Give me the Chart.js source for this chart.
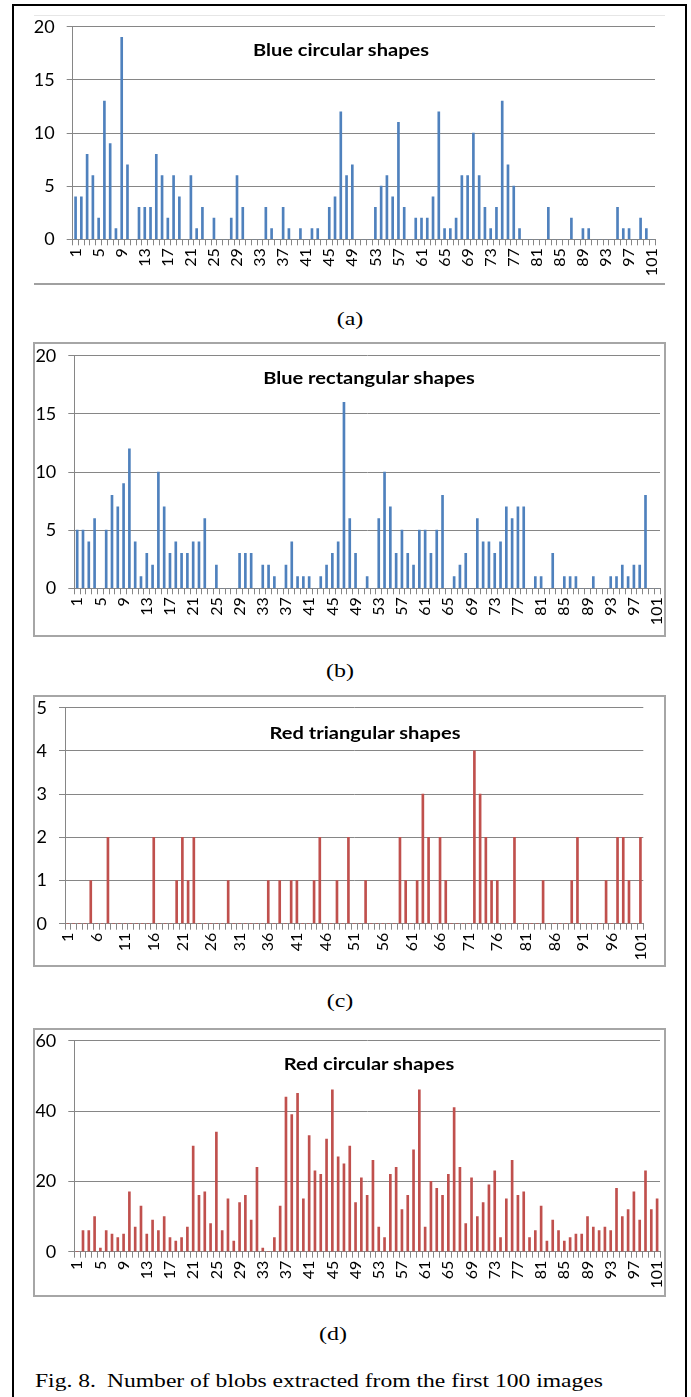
<!DOCTYPE html>
<html><head><meta charset="utf-8">
<script src="https://cdn.jsdelivr.net/npm/chart.js@4.4.0/dist/chart.umd.min.js"></script>
<style>
html,body{margin:0;padding:0;background:#fff;}
body{width:691px;height:1397px;position:relative;overflow:hidden;font-family:Lato,sans-serif;}
.abs{position:absolute;}
.outer{left:12px;top:4px;width:675px;height:1410px;border:2px solid #000;box-sizing:border-box;}
.frame{border:2px solid #a6a6a6;box-sizing:border-box;}
.chartbox{position:absolute;left:34px;width:631px;}
.title{position:absolute;font-family:Lato,sans-serif;font-weight:bold;font-size:17px;color:#000;white-space:nowrap;transform:translate(-50%,-50%) scaleX(1.18);}
.serif{position:absolute;font-family:"Liberation Serif","Times New Roman",serif;font-size:19px;line-height:19px;color:#000;white-space:nowrap;}
.sub{transform:translate(-50%,-50%) scaleX(1.26);}
.cap{transform-origin:left top;transform:scaleX(1.24);}
</style></head>
<body>
<div class="abs outer"></div>
<div class="abs" style="left:34px;top:15px;width:631px;height:1px;background:#e6e6e6"></div>
<div class="abs" style="left:34px;top:283px;width:631px;height:2px;background:#a0a0a0"></div>
<div class="abs frame" style="left:33px;top:342px;width:633px;height:295px"></div>
<div class="abs frame" style="left:33px;top:695px;width:633px;height:272px"></div>
<div class="abs frame" style="left:33px;top:1028px;width:633px;height:269px"></div>

<div class="chartbox" style="top:16px;height:268px"><canvas id="ca"></canvas></div>
<div class="chartbox" style="top:343px;height:293px"><canvas id="cb"></canvas></div>
<div class="chartbox" style="top:696px;height:270px"><canvas id="cc"></canvas></div>
<div class="chartbox" style="top:1029px;height:267px"><canvas id="cd"></canvas></div>

<div class="title" style="left:341px;top:49px">Blue circular shapes</div>
<div class="title" style="left:369px;top:377px">Blue rectangular shapes</div>
<div class="title" style="left:365px;top:732px">Red triangular shapes</div>
<div class="title" style="left:369px;top:1063px">Red circular shapes</div>

<div class="serif sub" style="left:350px;top:318px">(a)</div>
<div class="serif sub" style="left:340px;top:670px">(b)</div>
<div class="serif sub" style="left:340px;top:1000px">(c)</div>
<div class="serif sub" style="left:333px;top:1333px">(d)</div>
<div class="serif cap" style="left:35px;top:1371px">Fig. 8.</div>
<div class="serif cap" style="left:107px;top:1371px">Number of blobs extracted from the first 100 images</div>

<script>
const categories = [1,2,3,4,5,6,7,8,9,10,11,12,13,14,15,16,17,18,19,20,21,22,23,24,25,26,27,28,29,30,31,32,33,34,35,36,37,38,39,40,41,42,43,44,45,46,47,48,49,50,51,52,53,54,55,56,57,58,59,60,61,62,63,64,65,66,67,68,69,70,71,72,73,74,75,76,77,78,79,80,81,82,83,84,85,86,87,88,89,90,91,92,93,94,95,96,97,98,99,100,101];

const blueCircular = [4,4,8,6,2,13,9,1,19,7, 0,3,3,3,8,6,2,6,4,0, 6,1,3,0,2,0,0,2,6,3, 0,0,0,3,1,0,3,1,0,1, 0,1,1,0,3,4,12,6,7,0, 0,0,3,5,6,4,11,3,0,2, 2,2,4,12,1,1,2,6,6,10, 6,3,1,3,13,7,5,1,0,0, 0,0,3,0,0,0,2,0,1,1, 0,0,0,0,3,1,1,0,2,1, 0];
const blueRectangular = [5,5,4,6,0,5,8,7,9,12, 4,1,3,2,10,7,3,4,3,3, 4,4,6,0,2,0,0,0,3,3, 3,0,2,2,1,0,2,4,1,1, 1,0,1,2,3,4,16,6,3,0, 1,0,6,10,7,3,5,3,2,5, 5,3,5,8,0,1,2,3,0,6, 4,4,3,4,7,6,7,7,0,1, 1,0,3,0,1,1,1,0,0,1, 0,0,1,1,2,1,2,2,8,0, 0];
const redTriangular = [0,0,0,0,1,0,0,2,0,0, 0,0,0,0,0,2,0,0,0,1, 2,1,2,0,0,0,0,0,1,0, 0,0,0,0,0,1,0,1,0,1, 1,0,0,1,2,0,0,1,0,2, 0,0,1,0,0,0,0,0,2,1, 0,1,3,2,0,2,1,0,0,0, 0,4,3,2,1,1,0,0,2,0, 0,0,0,1,0,0,0,0,1,2, 0,0,0,0,1,0,2,2,1,0, 2];
const redCircular = [0,6,6,10,1,6,5,4,5,17, 7,13,5,9,6,10,4,3,4,7, 30,16,17,8,34,6,15,3,14,16, 9,24,1,0,4,13,44,39,45,15, 33,23,22,32,46,27,25,30,14,21, 16,26,7,4,22,24,12,16,29,46, 7,20,18,16,22,41,24,8,21,10, 14,19,23,4,15,26,16,17,4,6, 13,3,9,6,3,4,5,5,10,7, 6,7,6,18,10,12,17,9,23,12, 15];

const tickLabelsStep4 = ['1','5','9','13','17','21','25','29','33','37','41','45','49','53','57','61','65','69','73','77','81','85','89','93','97','101'];
const tickLabelsStep5 = ['1','6','11','16','21','26','31','36','41','46','51','56','61','66','71','76','81','86','91','96','101'];

const yTicksA = {max:20, step:5};
const yTicksB = {max:20, step:5};
const yTicksC = {max:5, step:1};
const yTicksD = {max:60, step:20};

const BLUE = '#4F81BD', RED = '#C0504D', GRID = '#868686';

function makeChart(id, values, color, yt, tickLabels, g) {
  new Chart(document.getElementById(id), {
    type: 'bar',
    data: { labels: categories.map(String), datasets: [{ data: values, backgroundColor: color, barThickness: 2, borderWidth: 0 }] },
    options: {
      responsive: true, maintainAspectRatio: false, animation: false,
      layout: { padding: { left: 0, right: g.right, top: g.top, bottom: 0 } },
      plugins: { legend: { display: false }, tooltip: { enabled: false }, title: { display: false } },
      scales: {
        x: {
          grid: { display: true, drawOnChartArea: false, drawTicks: true, tickLength: 6, color: GRID, lineWidth: 1, offset: true },
          border: { display: true, color: GRID, width: 1 },
          ticks: {
            autoSkip: false, maxRotation: 90, minRotation: 90, padding: 3, color: '#000',
            font: { family: 'Lato', size: 16 },
            callback: function (v) { const l = this.getLabelForValue(v); return tickLabels.includes(l) ? l : ''; }
          },
          afterFit: function (s) { s.height = g.xh; s.paddingLeft = 0; s.paddingRight = 0; }
        },
        y: {
          min: 0, max: yt.max,
          ticks: { stepSize: yt.step, padding: 12, color: '#000', font: { family: 'Lato', size: 18 } },
          grid: { color: GRID, lineWidth: 1, tickLength: 6 },
          border: { display: true, color: GRID, width: 1 },
          afterFit: function (s) { s.width = g.yw; s.paddingTop = 0; s.paddingBottom = 0; }
        }
      }
    }
  });
}

function build() {
  makeChart('ca', blueCircular, BLUE, yTicksA, tickLabelsStep4, { yw: 38.7, right: 10, top: 10.7, xh: 44.7 });
  makeChart('cb', blueRectangular, BLUE, yTicksB, tickLabelsStep4, { yw: 40.3, right: 5, top: 12.7, xh: 47.7 });
  makeChart('cc', redTriangular, RED, yTicksC, tickLabelsStep5, { yw: 31, right: 21.7, top: 11.7, xh: 42.3 });
  makeChart('cd', redCircular, RED, yTicksD, tickLabelsStep4, { yw: 40.3, right: 5, top: 11.7, xh: 44.3 });
}
if (document.fonts && document.fonts.load) {
  Promise.all([document.fonts.load('16px Lato'), document.fonts.load('bold 17px Lato')]).then(build, build);
} else { build(); }
</script>
</body></html>
